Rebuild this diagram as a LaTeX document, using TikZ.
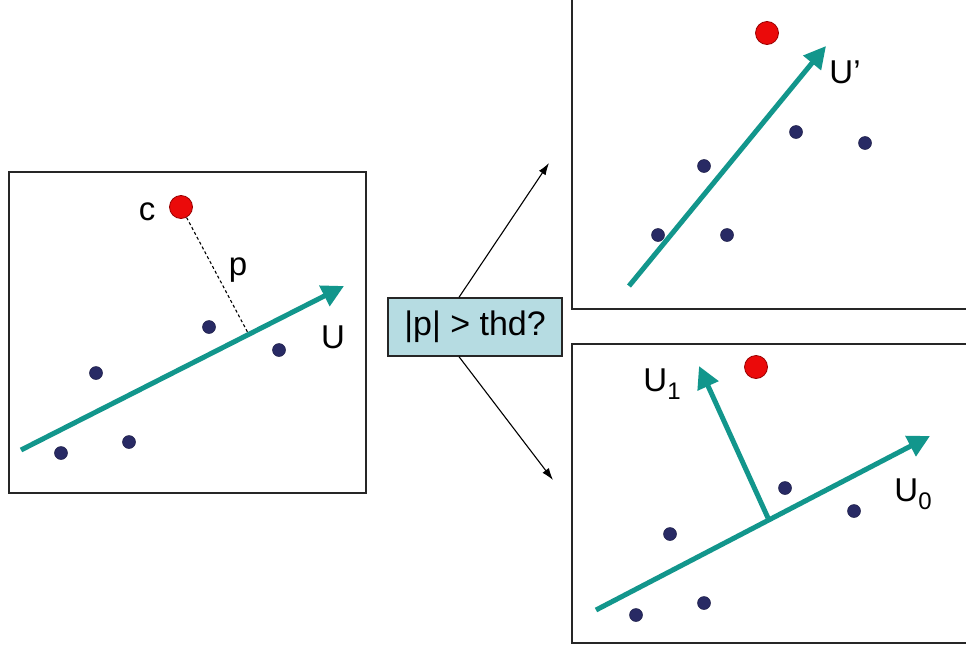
\documentclass[tikz,border=0pt]{standalone}
\usepackage{fontspec}
\setmainfont{Liberation Sans}
\usetikzlibrary{arrows.meta}
\definecolor{tealc}{RGB}{18,150,140}
\definecolor{navy}{RGB}{40,42,100}
\definecolor{redc}{RGB}{235,10,10}
\definecolor{boxblue}{RGB}{182,220,226}
\tikzset{
  panel/.style={draw=black!85, line width=1.6pt},
  pt/.style={circle, fill=navy, draw=navy!70!black, line width=0.5pt, minimum size=13pt, inner sep=0pt},
  center/.style={circle, fill=redc, draw=red!60!black, line width=0.8pt, minimum size=23pt, inner sep=0pt},
  vec/.style={draw=tealc, line width=5pt, -{Triangle[length=22pt,width=22pt]}},
  flow/.style={draw=black, line width=1.1pt, -{Latex[length=12pt,width=8pt]}},
  lbl/.style={font=\fontsize{33}{36}\selectfont, inner sep=0pt},
}
\newcommand{\subl}[1]{\raisebox{-8pt}{\fontsize{24}{26}\selectfont #1}}
\begin{document}
\begin{tikzpicture}[x=1pt,y=-1pt]
\useasboundingbox (0,0) rectangle (966,645);
\clip (0,0) rectangle (966,645);
% left panel
\draw[panel] (9,172) rectangle (366,493);
\node[center] (c0) at (181,207) {};
\node[lbl] (cl) at (147,212) {c};
\coordinate (foot0) at (248,333);
\draw[black, line width=1.1pt, dash pattern=on 3pt off 2.5pt] (c0) -- (foot0);
\node[lbl] (pl) at (238,270) {p};
\coordinate (u0s) at (21,450);
\coordinate (u0e) at (344,286);
\draw[vec] (u0s) -- (u0e);
\node[lbl] (ul) at (333,337) {U};
\node[pt] (a1) at (209,327) {};
\node[pt] (a2) at (279,350) {};
\node[pt] (a3) at (96,373) {};
\node[pt] (a4) at (129,442) {};
\node[pt] (a5) at (61,453) {};
% decision
\node[draw=black!85, line width=1.4pt, fill=boxblue, minimum width=174pt, minimum height=58pt, inner sep=0pt,
      font=\fontsize{34}{38}\selectfont] (dec) at (475,327) {|p| > thd?};
\coordinate (t1) at (549,163);
\coordinate (t2) at (553,480);
\draw[flow] ([xshift=-16pt]dec.north) -- (t1);
\draw[flow] ([xshift=-16pt]dec.south) -- (t2);
% top right panel
\draw[panel] (572,-3) rectangle (969,309);
\node[center] (c1) at (767,33) {};
\coordinate (v1s) at (629,286);
\coordinate (v1e) at (826,46);
\draw[vec] (v1s) -- (v1e);
\node[lbl] (upl) at (845,72) {U’};
\node[pt] (b1) at (796,132) {};
\node[pt] (b2) at (865,143) {};
\node[pt] (b3) at (704,166) {};
\node[pt] (b4) at (658,235) {};
\node[pt] (b5) at (727,235) {};
% bottom right panel
\draw[panel] (572,344) rectangle (969,643);
\node[center] (c2) at (756,367) {};
\coordinate (w0s) at (596,610);
\coordinate (w0e) at (930,436);
\draw[vec] (w0s) -- (w0e);
\coordinate (w1s) at (768,518);
\coordinate (w1e) at (699,366);
\draw[vec] (w1s) -- (w1e);
\node[lbl] (u0l) at (913,494) {U\subl{0}};
\node[lbl] (u1l) at (662,384) {U\subl{1}};
\node[pt] (d1) at (785,488) {};
\node[pt] (d2) at (854,511) {};
\node[pt] (d3) at (670,534) {};
\node[pt] (d4) at (704,603) {};
\node[pt] (d5) at (636,615) {};
\end{tikzpicture}
\end{document}
